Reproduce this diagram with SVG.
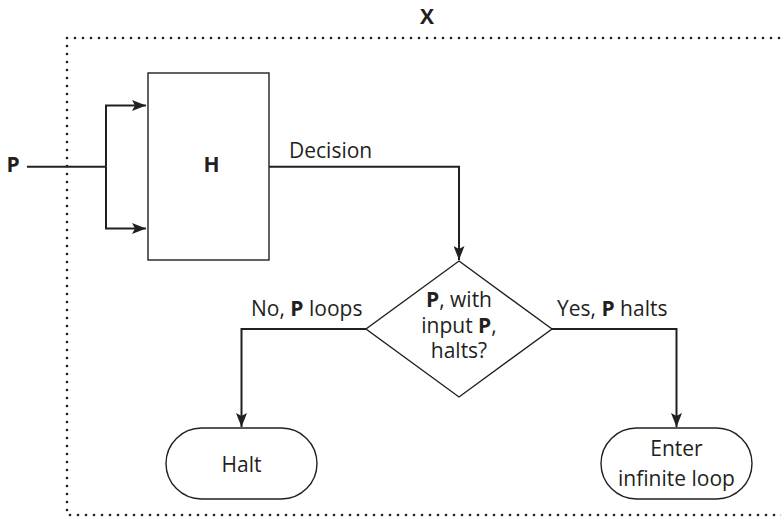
<svg xmlns="http://www.w3.org/2000/svg" width="781" height="519" viewBox="0 0 781 519">
<style>
text{font-family:"Open Sans","Liberation Sans",sans-serif;font-size:21px;fill:#231f20}
.b{font-weight:bold}
.m{text-anchor:middle}
.shape{fill:#fff;stroke:#231f20;stroke-width:1.4}
.conn{fill:none;stroke:#231f20;stroke-width:2}
.dot{fill:none;stroke:#231f20;stroke-width:2.7;stroke-dasharray:0 8;stroke-linecap:round}
</style>
<defs>
<marker id="ah" viewBox="0 0 14 11" refX="14" refY="5.5" markerWidth="14" markerHeight="11" markerUnits="userSpaceOnUse" orient="auto">
<path d="M0,0 L14,5.5 L0,11 L3,5.5 Z" fill="#231f20"/>
</marker>
</defs>
<g id="boundary">
<path class="dot" d="M795 38 H67 V515 H795"/>
<text class="b m" x="427" y="24">X</text>
</g>
<g id="input-p">
<text class="b m" x="13" y="172">P</text>
</g>
<g id="h">
<rect class="shape" x="148" y="73" width="121" height="187"/>
<text class="b m" x="211.5" y="172">H</text>
</g>
<g id="decision">
<polygon class="shape" points="459,261 552,329 459,397 366,329"/>
<text class="m" x="459" y="307"><tspan class="b">P</tspan>, with</text>
<text class="m" x="459" y="333">input <tspan class="b">P</tspan>,</text>
<text class="m" x="459" y="358">halts?</text>
</g>
<g id="halt">
<rect class="shape" x="166" y="428" width="151" height="71" rx="35.5"/>
<text class="m" x="241.5" y="472">Halt</text>
</g>
<g id="loop">
<rect class="shape" x="601" y="428" width="151" height="71" rx="35.5"/>
<text class="m" x="676.5" y="456">Enter</text>
<text class="m" x="676.5" y="486">infinite loop</text>
</g>
<g id="connectors">
<path class="conn" d="M27 166.7 H106"/>
<path class="conn" d="M106 166.7 V105.5 H146" marker-end="url(#ah)"/>
<path class="conn" d="M106 166.7 V228.5 H146" marker-end="url(#ah)"/>
<path class="conn" d="M269 166.7 H459 V260" marker-end="url(#ah)"/>
<path class="conn" d="M366 329 H241.5 V427" marker-end="url(#ah)"/>
<path class="conn" d="M552 329 H676.5 V427" marker-end="url(#ah)"/>
<text x="289" y="158">Decision</text>
<text x="251" y="316">No, <tspan class="b">P</tspan> loops</text>
<text x="557" y="316">Yes, <tspan class="b">P</tspan> halts</text>
</g>
</svg>
